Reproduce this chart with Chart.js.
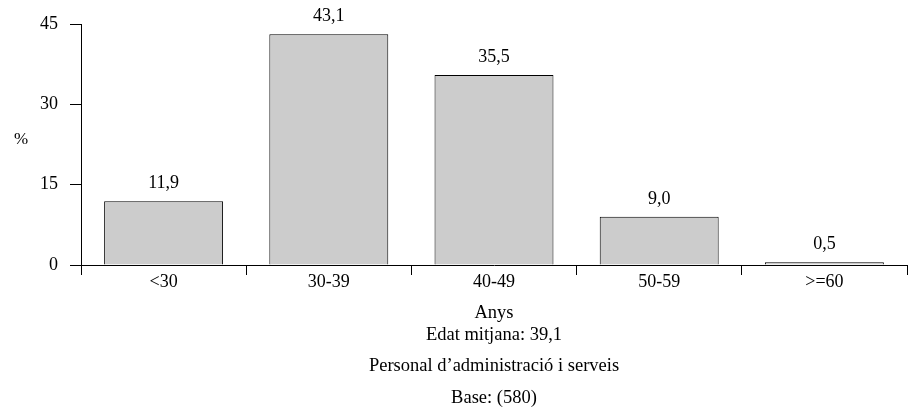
<!DOCTYPE html>
<html>
<head>
<meta charset="utf-8">
<script src="https://cdn.jsdelivr.net/npm/chart.js@4"></script>
<style>
  html, body { margin: 0; padding: 0; background: #fff; }
  #wrap { width: 912px; height: 416px; }
</style>
</head>
<body>
<div id="wrap"><canvas id="myChart" width="912" height="416"></canvas></div>
<script>
const categories = ['<30', '30-39', '40-49', '50-59', '>=60'];
const values = [11.9, 43.1, 35.5, 9.0, 0.5];
const yTicks = [0, 15, 30, 45];
const yLabel = '%';
const footerLines = ['Anys', 'Edat mitjana: 39,1', 'Personal d\u2019administració i serveis', 'Base: (580)'];

const FONT = '"Liberation Serif", "Times New Roman", serif';

function fmt(v) {
    return v.toFixed(1).replace('.', ',');
}

const valueLabels = {
    id: 'valueLabels',
    afterDatasetsDraw(chart) {
        const ctx = chart.ctx;
        const meta = chart.getDatasetMeta(0);
        ctx.save();
        ctx.font = '18px ' + FONT;
        ctx.fillStyle = '#000';
        ctx.textAlign = 'center';
        ctx.textBaseline = 'alphabetic';
        meta.data.forEach((bar, i) => {
            ctx.fillText(fmt(values[i]), bar.x, bar.y - 13);
        });
        ctx.restore();
    }
};

const extraText = {
    id: 'extraText',
    afterDraw(chart) {
        const ctx = chart.ctx;
        const area = chart.chartArea;
        const cx = (area.left + area.right) / 2;
        ctx.save();
        ctx.fillStyle = '#000';
        ctx.textAlign = 'center';
        ctx.textBaseline = 'middle';
        ctx.font = '17px ' + FONT;
        ctx.fillText(yLabel, 21, 140);
        ctx.textBaseline = 'alphabetic';
        ctx.font = '18.5px ' + FONT;
        const offsets = [53, 75, 106, 138];
        footerLines.forEach((line, i) => {
            ctx.fillText(line, cx, area.bottom + offsets[i]);
        });
        ctx.restore();
    }
};

const ctx = document.getElementById('myChart').getContext('2d');
new Chart(ctx, {
    type: 'bar',
    data: {
        labels: categories,
        datasets: [{
            data: values,
            backgroundColor: '#cccccc',
            borderColor: '#000000',
            borderWidth: 1,
            barPercentage: 0.72,
            categoryPercentage: 1
        }]
    },
    options: {
        responsive: false,
        animation: false,
        devicePixelRatio: 1,
        layout: { padding: { left: 0, right: 5, top: 24, bottom: 121 } },
        plugins: {
            legend: { display: false },
            tooltip: { enabled: false }
        },
        scales: {
            x: {
                afterFit(scale) { scale.height = 30; },
                grid: {
                    offset: true,
                    drawOnChartArea: false,
                    drawTicks: true,
                    tickLength: 10,
                    color: '#000'
                },
                border: { display: true, color: '#000', width: 1 },
                ticks: {
                    color: '#000',
                    padding: -4,
                    maxRotation: 0,
                    font: { family: FONT, size: 18 }
                }
            },
            y: {
                min: 0,
                max: 45,
                afterFit(scale) { scale.width = 81; },
                afterBuildTicks(scale) {
                    scale.ticks = yTicks.map(v => ({ value: v }));
                },
                grid: {
                    drawOnChartArea: false,
                    drawTicks: true,
                    tickLength: 11,
                    color: '#000'
                },
                border: { display: true, color: '#000', width: 1 },
                ticks: {
                    color: '#000',
                    padding: 12,
                    font: { family: FONT, size: 18 }
                }
            }
        }
    },
    plugins: [valueLabels, extraText]
});
</script>
</body>
</html>
